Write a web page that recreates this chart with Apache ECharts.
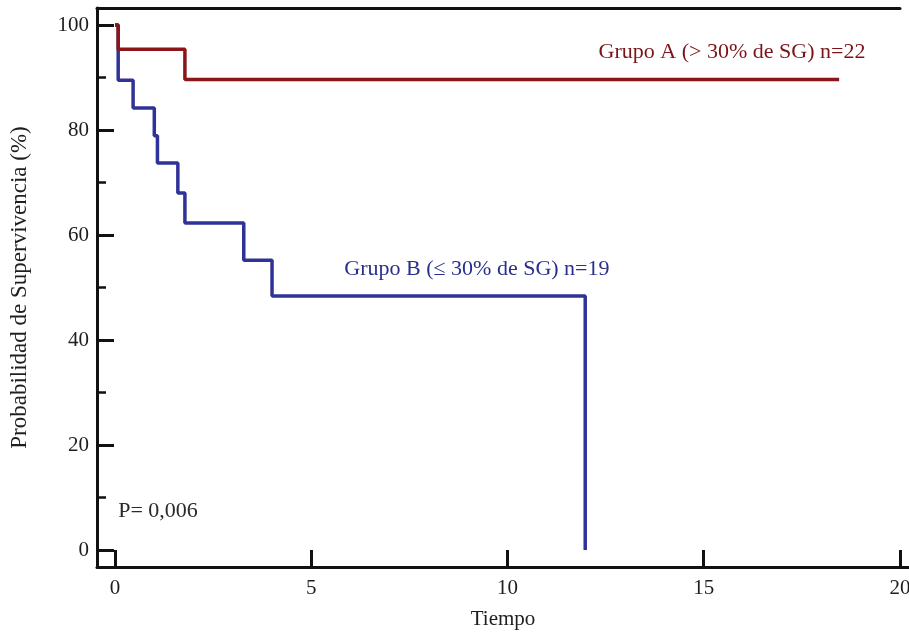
<!DOCTYPE html>
<html>
<head>
<meta charset="utf-8">
<script src="https://cdn.jsdelivr.net/npm/echarts@6/dist/echarts.min.js"></script>
<style>
  html, body { margin: 0; padding: 0; background: #fff; }
  #chart { width: 909px; height: 634px; }
</style>
</head>
<body>
<div id="chart"></div>
<script>
// curvas Kaplan-Meier: [tiempo, supervivencia %]
var grupoA = [[0, 100], [0.08, 95.4], [1.78, 89.6], [18.45, 89.6]];
var grupoB = [[0, 100], [0.08, 89.5], [0.46, 84.2], [1.0, 78.9], [1.08, 73.7],
  [1.6, 68.0], [1.78, 62.3], [3.28, 55.2], [4.0, 48.4], [11.98, 0]];

var xTicks = [0, 5, 10, 15, 20];
var yTicks = [0, 20, 40, 60, 80, 100];
var yMinorTicks = [10, 30, 50, 70, 90];

// textos dentro del grafico, en coordenadas de datos
var textos = [
  { name: 'Grupo A (> 30% de SG) n=22', value: [15.72, 94.9], color: '#7a1419', align: 'center' },
  { name: 'Grupo B (\u2264 30% de SG) n=19', value: [9.22, 53.5], color: '#29308c', align: 'center' },
  { name: 'P= 0,006', value: [0.08, 7.4], color: '#2a2a2a', align: 'left' }
];

var chart = echarts.init(document.getElementById('chart'), null, { renderer: 'canvas' });
var font = 'Liberation Serif';

var option = {
  animation: false,
  backgroundColor: '#fff',
  textStyle: { fontFamily: font },
  grid: [
    { left: 97, right: 0, top: 8, bottom: 67, outerBoundsMode: 'none', containLabel: false },
    { left: 97, right: 9, top: 8, height: 1, outerBoundsMode: 'none', containLabel: false }
  ],
  xAxis: [{
    type: 'value',
    gridIndex: 0,
    min: -0.46,
    max: 20.23,
    name: 'Tiempo',
    nameLocation: 'middle',
    nameGap: 42,
    nameTextStyle: { fontFamily: font, fontSize: 21, color: '#1e1e1e' },
    axisLine: { show: true, onZero: false, lineStyle: { color: '#111', width: 3 } },
    axisTick: { show: true, inside: true, length: 17, customValues: xTicks, lineStyle: { color: '#111', width: 3 } },
    axisLabel: { customValues: xTicks, fontFamily: font, fontSize: 21, color: '#1e1e1e', margin: 11 },
    splitLine: { show: false }
  }, {
    type: 'value',
    gridIndex: 1,
    position: 'top',
    min: 0,
    max: 1,
    axisLine: { show: true, onZero: false, lineStyle: { color: '#111', width: 3 } },
    axisTick: { show: false },
    axisLabel: { show: false },
    splitLine: { show: false }
  }],
  yAxis: [{
    type: 'value',
    gridIndex: 0,
    position: 'left',
    min: -3.24,
    max: 103.24,
    name: 'Probabilidad de Supervivencia (%)',
    nameLocation: 'middle',
    nameGap: 66,
    nameTextStyle: { fontFamily: font, fontSize: 23, color: '#1e1e1e' },
    axisLine: { show: true, onZero: false, lineStyle: { color: '#111', width: 3 } },
    axisTick: { show: true, inside: true, length: 17, customValues: yTicks, lineStyle: { color: '#111', width: 3 } },
    axisLabel: { customValues: yTicks, fontFamily: font, fontSize: 21, color: '#1e1e1e', margin: 8 },
    splitLine: { show: false }
  }, {
    type: 'value',
    gridIndex: 0,
    position: 'left',
    offset: 0,
    min: -3.24,
    max: 103.24,
    axisLine: { show: false, onZero: false },
    axisTick: { show: true, inside: true, length: 9, customValues: yMinorTicks, lineStyle: { color: '#111', width: 2.5 } },
    axisLabel: { show: false },
    splitLine: { show: false }
  }, {
    type: 'value',
    gridIndex: 1,
    show: false
  }],
  series: [{
    name: 'Grupo B',
    type: 'line',
    step: 'end',
    data: grupoB,
    symbol: 'none',
    lineStyle: { color: '#2f3397', width: 3.5 },
    z: 2
  }, {
    name: 'Grupo A',
    type: 'line',
    step: 'end',
    data: grupoA,
    symbol: 'none',
    lineStyle: { color: '#8a1618', width: 3.5 },
    z: 3
  }, {
    type: 'scatter',
    symbolSize: 0,
    silent: true,
    itemStyle: { opacity: 1 },
    data: textos.map(function (t) {
      return {
        name: t.name,
        value: t.value,
        label: {
          show: true,
          position: 'inside',
          formatter: t.name,
          align: t.align,
          verticalAlign: 'middle',
          color: t.color,
          fontFamily: font,
          fontSize: 22
        }
      };
    }),
    z: 4
  }]
};

chart.setOption(option);
</script>
</body>
</html>
